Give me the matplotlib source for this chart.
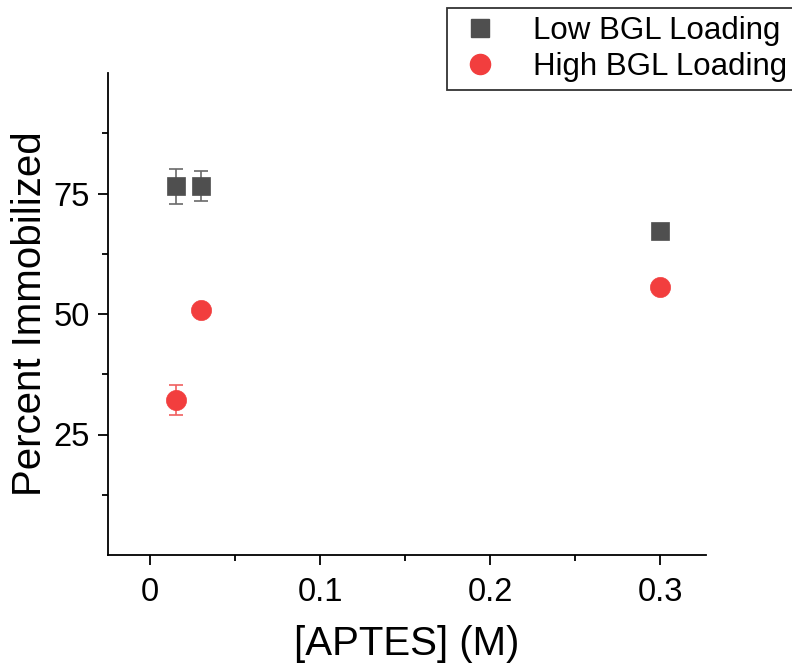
import matplotlib
matplotlib.use("Agg")
import matplotlib.pyplot as plt
from matplotlib.ticker import FixedLocator
from matplotlib.lines import Line2D

plt.rcParams['font.family'] = ['Liberation Sans', 'DejaVu Sans']

# data
low_x = [0.015, 0.03, 0.3]
low_y = [76.5, 76.6, 67.2]
low_err = [3.6, 3.1, 0.0]
high_x = [0.015, 0.03, 0.3]
high_y = [32.2, 50.8, 55.7]
high_err = [3.1, 0.0, 0.0]

low_color = '#4f4f4f'
high_color = '#f23e3e'

fig = plt.figure(figsize=(7.92, 6.63), dpi=100)
ax = fig.add_axes([108/792, 1-555/663, (706-108)/792, (555-73)/663])

ax.errorbar(low_x, low_y, yerr=low_err, fmt='none', ecolor='#6a6a6a',
            elinewidth=1.2, capsize=5, capthick=1.2, zorder=2)
ax.plot(low_x, low_y, 's', color=low_color, ms=13, mec=low_color, mew=0.5, zorder=3)
ax.errorbar(high_x, high_y, yerr=high_err, fmt='none', ecolor='#f06060',
            elinewidth=1.2, capsize=5, capthick=1.2, zorder=2)
ax.plot(high_x, high_y, 'o', color=high_color, ms=14.5, mec=high_color, mew=0.5, zorder=3)

ax.set_xlim(-0.0247, 0.327)
ax.set_ylim(0, 100)
ax.xaxis.set_major_locator(FixedLocator([0, 0.1, 0.2, 0.3]))
ax.set_xticklabels(['0', '0.1', '0.2', '0.3'])
ax.xaxis.set_minor_locator(FixedLocator([0.05, 0.15, 0.25]))
ax.yaxis.set_major_locator(FixedLocator([25, 50, 75]))
ax.set_yticklabels(['25', '50', '75'])
ax.yaxis.set_minor_locator(FixedLocator([12.5, 37.5, 62.5, 87.5]))

for s in ['top', 'right']:
    ax.spines[s].set_visible(False)
for s in ['left', 'bottom']:
    ax.spines[s].set_linewidth(1.3)
ax.tick_params(which='major', direction='out', length=7, width=1.3, labelsize=23.5)
ax.tick_params(axis='x', which='major', pad=9)
ax.tick_params(axis='y', which='major', pad=6)
ax.tick_params(which='minor', direction='out', length=4, width=1.3)

ax.set_xlabel('[APTES] (M)', fontsize=29, labelpad=12)
ax.set_ylabel('Percent Immobilized', fontsize=29, labelpad=3)

handles = [Line2D([], [], ls='none', marker='s', color=low_color, ms=13),
           Line2D([], [], ls='none', marker='o', color=high_color, ms=14.5)]
labels = ['Low BGL Loading', 'High BGL Loading']
leg = fig.legend(handles, labels, loc='upper left', bbox_to_anchor=(447/792, 1-8/663),
                 fontsize=22.5, frameon=True, fancybox=False, edgecolor='black',
                 borderaxespad=0, borderpad=0.25, handletextpad=0.9, labelspacing=0.2,
                 handlelength=1.6)
leg.get_frame().set_linewidth(1.3)

fig.savefig('out.png', dpi=100)
